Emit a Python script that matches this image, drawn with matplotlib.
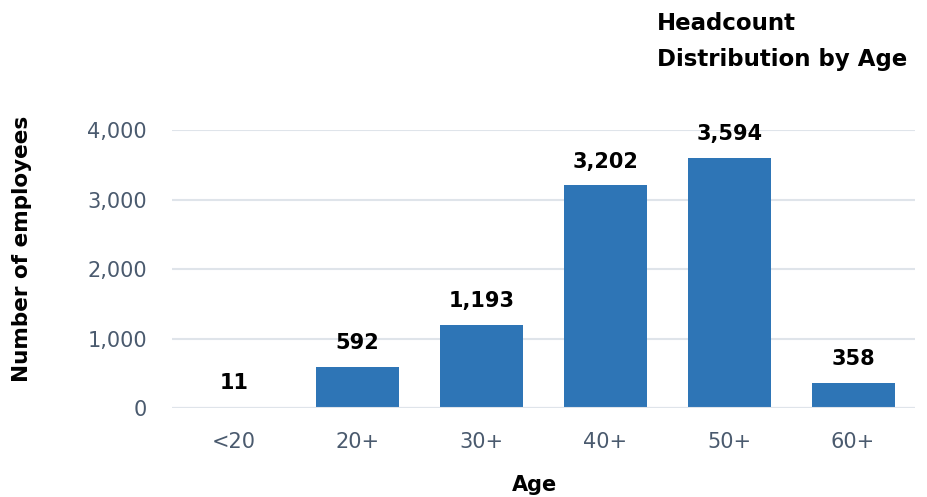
import numpy as np
import matplotlib.pyplot as plt

# headcount by age band
categories = ["<20", "20+", "30+", "40+", "50+", "60+"]
counts = [11, 592, 1193, 3202, 3594, 358]
yticks = [0, 1000, 2000, 3000, 4000]

bar_color = "#2e75b6"
grid_color = "#dfe4ea"
tick_color = "#4a5a6e"

plt.rcParams['font.family'] = ['DejaVu Sans']

fig = plt.figure(figsize=(9.27, 4.97), dpi=100)
ax = fig.add_axes([0.1855, 0.179, 0.8015, 0.5594])

x = np.arange(len(categories))
bars = ax.bar(x, counts, width=0.67, color=bar_color, zorder=2)
ax.axhline(0, color=grid_color, lw=1.5, zorder=3)

for xi, v in zip(x, counts):
    ax.annotate(f"{v:,}", (xi, v), xytext=(0, 10), textcoords="offset points",
                ha="center", va="bottom", fontsize=15, fontweight="bold",
                color="black", clip_on=False)

ax.set_xlim(-0.5, len(categories) - 0.5)
ax.set_ylim(0, 4000)
ax.set_yticks(yticks)
ax.set_yticklabels([f"{t:,}" for t in yticks])
ax.set_xticks(x)
ax.set_xticklabels(categories)
ax.yaxis.grid(True, color=grid_color, lw=1.5, zorder=0)
ax.set_axisbelow(True)
ax.tick_params(axis="both", length=0, labelsize=15, labelcolor=tick_color)
ax.tick_params(axis="y", pad=18)
ax.tick_params(axis="x", pad=17)
for s in ax.spines.values():
    s.set_visible(False)

fig.text(0.577, 0.005, "Age", ha="center", va="bottom",
         fontsize=15, fontweight="bold")
fig.text(0.024, 0.50, "Number of employees", rotation=90, ha="center",
         va="center", fontsize=15.5, fontweight="bold")
fig.text(0.709, 0.976, "Headcount\nDistribution by Age", ha="left", va="top",
         fontsize=16.5, fontweight="bold", linespacing=1.75)

fig.savefig("out.png", dpi=100)
